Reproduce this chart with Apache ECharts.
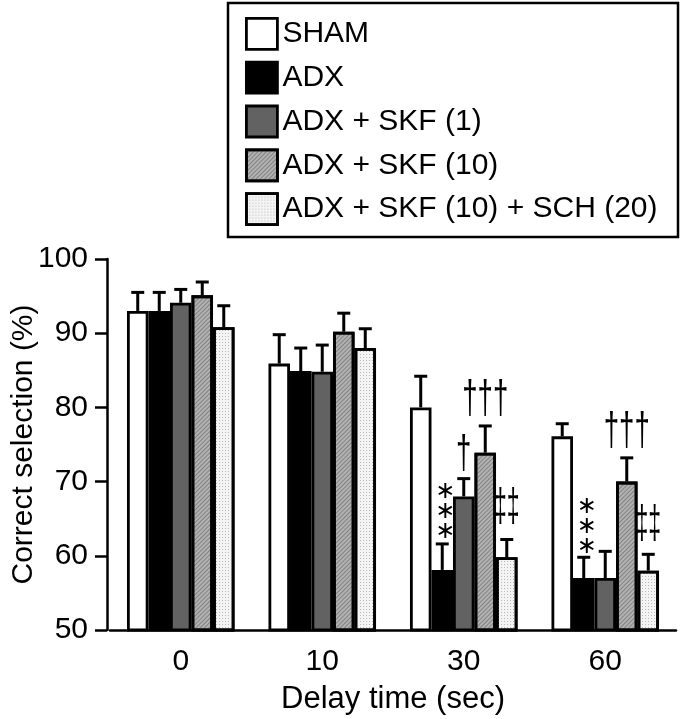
<!DOCTYPE html>
<html>
<head>
<meta charset="utf-8">
<script src="https://cdn.jsdelivr.net/npm/echarts@6/dist/echarts.min.js"></script>
<style>html,body{margin:0;padding:0;background:#fff}#c{width:685px;height:719px}</style>
</head>
<body>
<div id="c"></div>
<script>
var categories = ['0', '10', '30', '60'];
var seriesNames = ['SHAM', 'ADX', 'ADX + SKF (1)', 'ADX + SKF (10)', 'ADX + SKF (10) + SCH (20)'];
var sham      = [93.0, 85.9, 80.0, 76.1];
var adx       = [93.0, 84.9, 58.1, 57.0];
var skf1      = [94.1, 84.8, 68.0, 57.0];
var skf10     = [95.1, 90.2, 73.9, 70.0];
var skf10sch  = [90.8, 88.0, 59.8, 58.0];
var shamErr     = [95.5, 89.8, 84.2, 77.8];
var adxErr      = [95.5, 88.0, 61.6, 59.8];
var skf1Err     = [95.9, 88.4, 70.4, 60.6];
var skf10Err    = [96.9, 92.7, 77.5, 73.2];
var skf10schErr = [93.7, 90.6, 62.2, 60.2];
// annotations: [category index, series index, y value, text]
var annotations = [
  [2, 1, 66.0, '∗\n∗\n∗'],
  [2, 2, 73.6, '†'],
  [2, 3, 81.0, '†††'],
  [2, 4, 66.4, '‡‡'],
  [3, 1, 63.9, '∗\n∗\n∗'],
  [3, 3, 76.6, '†††'],
  [3, 4, 64.1, '‡‡']
];

var means = [sham, adx, skf1, skf10, skf10sch];
var errs = [shamErr, adxErr, skf1Err, skf10Err, skf10schErr];
var GAP = 0.24;
var font = 'Liberation Sans, Arial, sans-serif';

var styles = [
  {color: '#ffffff'},
  {color: '#000000'},
  {color: '#626262'},
  {color: '#b2b2b2', decal: {symbol: 'rect', symbolSize: 1, dashArrayX: [1, 0], dashArrayY: [1, 2], rotation: -Math.PI / 4, color: 'rgba(70,70,70,0.45)'}},
  {color: '#f4f4f4', decal: {symbol: 'rect', symbolSize: 1, dashArrayX: [1, 2], dashArrayY: [1, 2], color: '#b8b8b8'}}
];

var series = [];
seriesNames.forEach(function (n, i) {
  var st = styles[i];
  var is = {color: st.color, borderColor: '#000', borderWidth: 2.8};
  if (st.decal) is.decal = st.decal;
  series.push({
    name: n, type: 'bar', data: means[i], barGap: '0%', barCategoryGap: (GAP * 100) + '%',
    itemStyle: is, z: 3
  });
});

seriesNames.forEach(function (n, i) {
  var d = categories.map(function (c, k) { return [k, means[i][k], errs[i][k]]; });
  series.push({
    type: 'custom', name: 'err' + i, z: 2, silent: true,
    renderItem: function (params, api) {
      var k = api.value(0);
      var c0 = api.coord([k, api.value(1)]);
      var c1 = api.coord([k, api.value(2)]);
      var band = api.size([1, 0])[0];
      var bw = band * (1 - GAP) / 5;
      var x = c0[0] + (i - 2) * bw;
      var cap = 6.5;
      var s = {stroke: '#000', lineWidth: 3};
      return {type: 'group', children: [
        {type: 'line', shape: {x1: x, y1: c0[1], x2: x, y2: c1[1]}, style: s},
        {type: 'line', shape: {x1: x - cap, y1: c1[1], x2: x + cap, y2: c1[1]}, style: s}
      ]};
    },
    data: d
  });
});

series.push({
  type: 'custom', name: 'annot', z: 5, silent: true,
  renderItem: function (params, api) {
    var k = api.value(0), si = api.value(1);
    var c = api.coord([k, api.value(2)]);
    var band = api.size([1, 0])[0];
    var bw = band * (1 - GAP) / 5;
    var x = c[0] + (si - 2) * bw + (si === 1 ? 3 : 0);
    var txt = annotations[params.dataIndex][3];
    var isStar = txt.indexOf('∗') >= 0;
    var isDouble = txt.indexOf('‡') >= 0;
    return {type: 'text', x: x, y: c[1], scaleX: isStar ? 1 : (isDouble ? 0.5 : 0.6), style: {
      text: txt, fill: '#000', align: 'center', verticalAlign: 'middle',
      font: isStar ? '24px DejaVu Sans' : '46px Liberation Sans',
      lineHeight: isStar ? 20 : 46
    }};
  },
  data: annotations.map(function (a) { return [a[0], a[1], a[2]]; })
});

var chart = echarts.init(document.getElementById('c'), null, {renderer: 'canvas'});
chart.setOption({
  animation: false,
  backgroundColor: '#fff',
  textStyle: {fontFamily: font},
  graphic: [{type: 'rect', shape: {x: 228, y: 3, width: 450, height: 234}, style: {fill: 'none', stroke: '#000', lineWidth: 2.5}, z: 10}],
  legend: {
    data: seriesNames, orient: 'vertical', left: 245, top: 17, icon: 'rect',
    itemWidth: 31, itemHeight: 31, itemGap: 10, padding: 0,
    textStyle: {fontSize: 30, color: '#000', fontFamily: font, lineHeight: 31},
    itemStyle: {borderColor: '#000', borderWidth: 2.8}
  },
  grid: {left: 110, right: 9, top: 259, bottom: 89, containLabel: false, outerBoundsMode: 'none'},
  xAxis: {
    type: 'category', data: categories,
    axisLine: {lineStyle: {color: '#000', width: 2.5}},
    axisTick: {show: false},
    axisLabel: {color: '#000', fontSize: 30, margin: 17, fontFamily: font},
    name: 'Delay time (sec)', nameLocation: 'middle', nameGap: 54, nameMoveOverlap: false,
    nameTextStyle: {fontSize: 31, color: '#000', fontFamily: font}
  },
  yAxis: {
    type: 'value', min: 50, max: 100, interval: 10, offset: 3,
    axisLine: {show: true, lineStyle: {color: '#000', width: 2.5}},
    axisTick: {show: true, length: 12, lineStyle: {color: '#000', width: 2.5}},
    splitLine: {show: false},
    axisLabel: {color: '#000', fontSize: 30, margin: 19, fontFamily: font},
    name: 'Correct selection (%)', nameLocation: 'middle', nameGap: 68, nameRotate: 90, nameMoveOverlap: false,
    nameTextStyle: {fontSize: 30, color: '#000', fontFamily: font}
  },
  series: series
});
</script>
</body>
</html>
